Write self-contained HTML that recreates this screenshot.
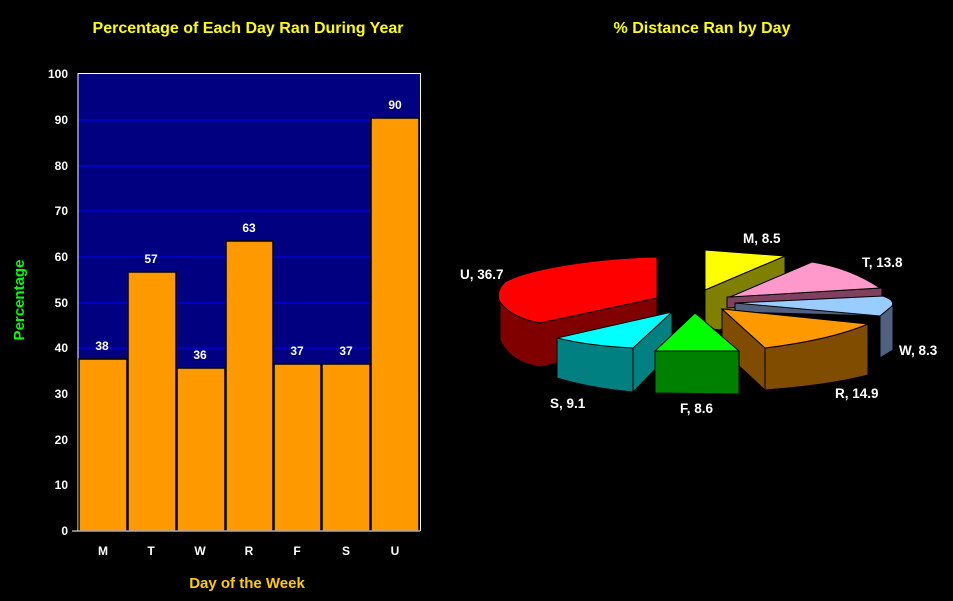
<!DOCTYPE html>
<html><head><style>
body{margin:0;background:#000;}
svg{display:block;font-family:"Liberation Sans",Arial,sans-serif;font-weight:bold;}
</style></head><body>
<svg width="953" height="601" viewBox="0 0 953 601">
<rect width="953" height="601" fill="#000"/>
<text x="248" y="33" fill="#FFFF00" font-size="16" text-anchor="middle">Percentage of Each Day Ran During Year</text>
<text x="702" y="33" fill="#FFFF00" font-size="16" text-anchor="middle">% Distance Ran by Day</text>
<rect x="78" y="73" width="342" height="458" fill="#000080"/>
<g stroke="#0000FF" stroke-width="1">
<line x1="78" x2="420" y1="120" y2="120"/><line x1="78" x2="420" y1="166" y2="166"/>
<line x1="78" x2="420" y1="211" y2="211"/><line x1="78" x2="420" y1="257" y2="257"/>
<line x1="78" x2="420" y1="303" y2="303"/><line x1="78" x2="420" y1="348" y2="348"/>
<line x1="78" x2="420" y1="394" y2="394"/><line x1="78" x2="420" y1="440" y2="440"/>
<line x1="78" x2="420" y1="485" y2="485"/></g>
<polyline points="78,531 78,73.5 420.5,73.5 420.5,531" fill="none" stroke="#fff" stroke-width="1"/>
<g fill="#FF9900" stroke="#000" stroke-width="1.5">
<rect x="79" y="359" width="48" height="172"/>
<rect x="128" y="272" width="48" height="259"/>
<rect x="177" y="368" width="48" height="163"/>
<rect x="226" y="241" width="47" height="290"/>
<rect x="274" y="364" width="47" height="167"/>
<rect x="322" y="364" width="48" height="167"/>
<rect x="371" y="118" width="48" height="413"/>
</g>
<g fill="#fff" font-size="12" text-anchor="middle">
<text x="102" y="350">38</text><text x="151" y="263">57</text><text x="200" y="359">36</text>
<text x="249" y="232">63</text><text x="297" y="355">37</text><text x="346" y="355">37</text><text x="395" y="109">90</text>
</g>
<g fill="#fff" font-size="12" text-anchor="end">
<text x="68" y="535">0</text><text x="68" y="489">10</text><text x="68" y="444">20</text><text x="68" y="398">30</text>
<text x="68" y="352">40</text><text x="68" y="307">50</text><text x="68" y="261">60</text><text x="68" y="215">70</text>
<text x="68" y="170">80</text><text x="68" y="124">90</text><text x="68" y="78">100</text>
</g>
<g stroke="#fff"><line x1="72" x2="78" y1="531" y2="531"/><line x1="78" x2="420" y1="531" y2="531"/></g>
<g fill="#fff" font-size="12" text-anchor="middle">
<text x="103" y="555">M</text><text x="151" y="555">T</text><text x="200" y="555">W</text><text x="249" y="555">R</text>
<text x="297" y="555">F</text><text x="346" y="555">S</text><text x="395" y="555">U</text>
</g>
<text x="247" y="588" fill="#FFCC00" font-size="15" text-anchor="middle">Day of  the Week</text>
<text transform="translate(24,300) rotate(-90)" fill="#00FF00" font-size="15" text-anchor="middle">Percentage</text>

<g stroke="#000" stroke-width="1">
<!-- U -->
<path d="M500,300 L500,340 Q510,362 540,367 L657,340 L657,298 L540,323 Q512,318 500,302Z" fill="#800000"/>
<path d="M657,257 C600,258 530,268 505,282 Q495,292 500,302 Q512,318 540,323 L657,298Z" fill="#FF0000"/>
<!-- M -->
<path d="M705,290 L785,256 L785,283 L720,330 L705,328Z" fill="#808000"/>
<path d="M705,250 L785,256 L705,290Z" fill="#FFFF00"/>
<!-- T -->
<path d="M727,297 L882,288 L882,298 L727,308Z" fill="#804060"/>
<path d="M730,297 L812,262 Q850,268 880,288 Z" fill="#FF99CC"/>
<!-- W -->
<path d="M735,303 L735,312 L880,316 L880,358 L893,350 L893,306Z" fill="#506080"/>
<path d="M735,303 L883,296 Q895,300 892,306 L880,316Z" fill="#99CCFF"/>
<!-- R -->
<path d="M722,309 L722,350 L765,390 Q830,385 868,375 L868,324 Q830,340 765,348Z" fill="#804C00"/>
<path d="M765,348 L765,390 M722,309 L868,324" fill="none"/>
<path d="M722,309 L868,324 Q830,340 765,348Z" fill="#FF9900"/>
<!-- S -->
<path d="M557,338 L557,378 Q590,388 633,392 L672,352 L672,312 L633,348Z" fill="#008080"/>
<path d="M633,348 L633,392" fill="none"/>
<path d="M557,338 L672,312 L633,348 Q590,346 557,338Z" fill="#00FFFF"/>
<!-- F -->
<path d="M655,351 L739,351 L739,394 L655,393Z" fill="#008000"/>
<path d="M695,313 L739,351 L655,351Z" fill="#00FF00"/>
</g>
<g fill="#fff" font-size="13.5">
<text x="743" y="243">M, 8.5</text><text x="862" y="267">T, 13.8</text><text x="899" y="355">W, 8.3</text>
<text x="835" y="398">R, 14.9</text><text x="680" y="413">F, 8.6</text><text x="550" y="408">S, 9.1</text>
<text x="460" y="279">U, 36.7</text>
</g>
</svg>
</body></html>
